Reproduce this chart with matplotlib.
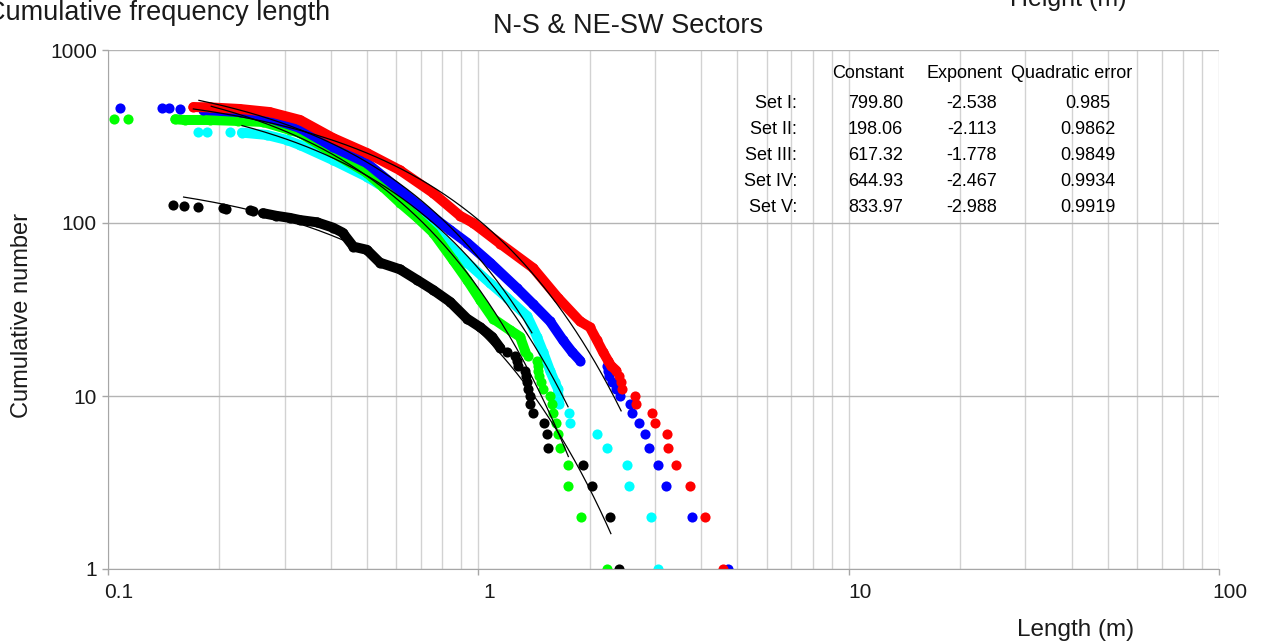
import numpy as np
import matplotlib.pyplot as plt
import matplotlib.transforms as mtransforms
from matplotlib.ticker import LogLocator, NullFormatter, NullLocator

plt.rcParams['font.family'] = ['Liberation Sans', 'DejaVu Sans']

# cumulative number of fractures longer than L, per set
red_len = [0.170, 0.188, 0.227, 0.273, 0.330, 0.405, 0.500, 0.614, 0.755, 0.893,
           0.968, 1.145, 1.405, 1.64, 1.883, 2.00, 2.09, 2.17, 2.24, 2.28,
           2.36, 2.40, 2.43, 2.44, 2.65, 2.67, 2.94, 3.00, 3.23, 3.25,
           3.42, 3.73, 4.10, 4.58]
red_num = [468, 466, 456, 438, 394, 310, 254, 202, 149, 110,
           100, 76, 55, 37, 27, 25, 21, 18, 16, 15,
           14, 13, 12, 11, 10, 9, 8, 7, 6, 5,
           4, 3, 2, 1]

blue_len = [0.108, 0.140, 0.146, 0.156, 0.181, 0.227, 0.273, 0.330, 0.405, 0.500,
            0.614, 0.755, 0.839, 0.932, 1.075, 1.272, 1.405, 1.562, 1.693, 1.79,
            1.883, 2.23, 2.24, 2.26, 2.30, 2.36, 2.41, 2.57, 2.60, 2.72,
            2.82, 2.89, 3.06, 3.21, 3.78, 4.73]
blue_num = [462, 461, 460, 459, 450, 438, 404, 354, 275, 222,
            155, 108, 91, 77, 59, 42, 34, 27, 21, 18,
            16, 15, 14, 13, 12, 11, 10, 9, 8, 7,
            6, 5, 4, 3, 2, 1]

cyan_len = [0.175, 0.185, 0.213, 0.230, 0.268, 0.304, 0.330, 0.405, 0.500, 0.614,
            0.755, 0.839, 0.932, 1.075, 1.195, 1.354, 1.44, 1.495, 1.562, 1.61,
            1.64, 1.645, 1.651, 1.758, 1.769, 2.092, 2.227, 2.521, 2.552, 2.925,
            3.055]
cyan_num = [336, 335, 334, 333, 323, 302, 282, 231, 185, 141,
            91, 73, 59, 45, 37, 29, 22, 18, 14, 12,
            11, 10, 9, 8, 7, 6, 5, 4, 3, 2,
            1]

green_len = [0.104, 0.113, 0.152, 0.161, 0.188, 0.224, 0.262, 0.310, 0.330, 0.405,
             0.500, 0.552, 0.614, 0.682, 0.755, 0.855, 0.932, 1.011, 1.096, 1.218,
             1.296, 1.34, 1.36, 1.44, 1.445, 1.45, 1.46, 1.48, 1.495, 1.562,
             1.581, 1.591, 1.621, 1.641, 1.662, 1.747, 1.75, 1.894, 2.227]
green_num = [399, 399, 398, 394, 394, 389, 384, 345, 331, 254,
             195, 162, 131, 108, 88, 61, 47, 36, 28, 24,
             22, 18, 17, 16, 15, 14, 13, 12, 11, 10,
             9, 8, 7, 6, 5, 4, 3, 2, 1]

black_len = [0.150, 0.160, 0.175, 0.204, 0.208, 0.242, 0.246, 0.262, 0.285, 0.310,
             0.330, 0.366, 0.405, 0.43, 0.46, 0.50, 0.542, 0.614, 0.682, 0.755,
             0.839, 0.932, 1.011, 1.089, 1.145, 1.195, 1.256, 1.27, 1.28, 1.337,
             1.345, 1.354, 1.362, 1.375, 1.379, 1.405, 1.504, 1.533, 1.542, 1.917,
             2.028, 2.268, 2.399]
black_num = [127, 125, 124, 122, 121, 119, 118, 114, 110, 107,
             104, 101, 94, 88, 73, 70, 59, 54, 47, 41,
             35, 28, 25, 22, 19, 18, 17, 16, 15, 14,
             13, 12, 11, 10, 9, 8, 7, 6, 5, 4,
             3, 2, 1]

# exponential fits N = C * exp(k * L)
set_names = ['Set I:', 'Set II:', 'Set III:', 'Set IV:', 'Set V:']
set_const = [799.80, 198.06, 617.32, 644.93, 833.97]
set_expo = [-2.538, -2.113, -1.778, -2.467, -2.988]
set_err = ['0.985', '0.9862', '0.9849', '0.9934', '0.9919']
fit_from = [0.176, 0.160, 0.170, 0.230, 0.190]
fit_to = [1.395, 2.28, 2.43, 1.747, 1.75]

W, H = 1266, 642
fig = plt.figure(figsize=(W / 100, H / 100), dpi=100)
ax = fig.add_axes([108 / W, 1 - 569 / H, 1111 / W, 519 / H])


def px(x, y):
    return x / W, 1 - y / H


# (lengths, counts, joined run of points, colour) in drawing order
series = [
    (cyan_len, cyan_num, (3, 23), '#00ffff'),
    (green_len, green_num, (2, 22), '#00ff00'),
    (blue_len, blue_num, (4, 21), '#0000ff'),
    (red_len, red_num, (0, 21), '#ff0000'),
    (black_len, black_num, (7, 25), '#000000'),
]
for lens, nums, (i0, i1), col in series:
    ax.plot(lens[i0:i1], nums[i0:i1], color=col, lw=7.2,
            solid_capstyle='round', solid_joinstyle='round', zorder=2)
    ax.plot(lens, nums, 'o', color=col, ms=7.3, mec='none', zorder=2)

for c, k, a, b in zip(set_const, set_expo, fit_from, fit_to):
    xs = np.geomspace(a, b, 200)
    ax.plot(xs, c * np.exp(k * xs), color='black', lw=0.9, zorder=3)

ax.set_xscale('log')
ax.set_yscale('log')
ax.set_xlim(0.1, 100)
ax.set_ylim(1, 1000)
ax.set_xticks([0.1, 1, 10, 100])
ax.set_xticklabels(['0.1', '1', '10', '100'])
ax.set_yticks([1, 10, 100, 1000])
ax.set_yticklabels(['1', '10', '100', '1000'])
ax.xaxis.set_minor_locator(LogLocator(base=10, subs=np.arange(2, 10)))
ax.xaxis.set_minor_formatter(NullFormatter())
ax.yaxis.set_minor_locator(NullLocator())
ax.grid(True, which='both', axis='x', color='#d2d2d2', lw=1)
ax.grid(True, which='major', axis='y', color='#b4b4b4', lw=1)
ax.set_axisbelow(True)
ax.tick_params(which='minor', length=0)
ax.tick_params(which='major', length=4, width=1, color='#a6a6a6',
               labelsize=15, labelcolor='#1a1a1a')
ax.tick_params(axis='x', pad=6)
ax.tick_params(axis='y', pad=4)
for side in ['top', 'right']:
    ax.spines[side].set_visible(False)
for side in ['left', 'bottom']:
    ax.spines[side].set_color('#a6a6a6')

shift = mtransforms.ScaledTranslation(11 / 100, 0, fig.dpi_scale_trans)
for lab in ax.get_xticklabels():
    lab.set_transform(lab.get_transform() + shift)

fig.text(*px(628, 33), 'N-S & NE-SW Sectors', ha='center', va='baseline',
         fontsize=19.5, color='#1a1a1a')
fig.text(*px(-14, 20), 'Cumulative frequency length', ha='left', va='baseline',
         fontsize=19.5, color='#1a1a1a')
fig.text(*px(1010, 6), 'Height (m)', ha='left', va='baseline',
         fontsize=18, color='#1a1a1a')
fig.text(*px(1076, 636), 'Length (m)', ha='center', va='baseline',
         fontsize=17.5, color='#1a1a1a')
fig.text(*px(22, 315), 'Cumulative number', ha='center', va='center',
         rotation=90, fontsize=17, color='#1a1a1a')

# fit parameters table
tsize = 13
fig.text(*px(868, 74), 'Constant', ha='center', va='center', fontsize=tsize)
fig.text(*px(965, 74), 'Exponent', ha='center', va='center', fontsize=tsize)
fig.text(*px(1072, 74), 'Quadratic error', ha='center', va='center', fontsize=tsize)
for i, name in enumerate(set_names):
    y = 104 + 26 * i
    fig.text(*px(797, y), name, ha='right', va='center', fontsize=tsize)
    fig.text(*px(903, y), f'{set_const[i]:.2f}', ha='right', va='center', fontsize=tsize)
    fig.text(*px(997, y), f'{set_expo[i]:.3f}', ha='right', va='center', fontsize=tsize)
    fig.text(*px(1088, y), set_err[i], ha='center', va='center', fontsize=tsize)

fig.savefig('out.png', dpi=100)
